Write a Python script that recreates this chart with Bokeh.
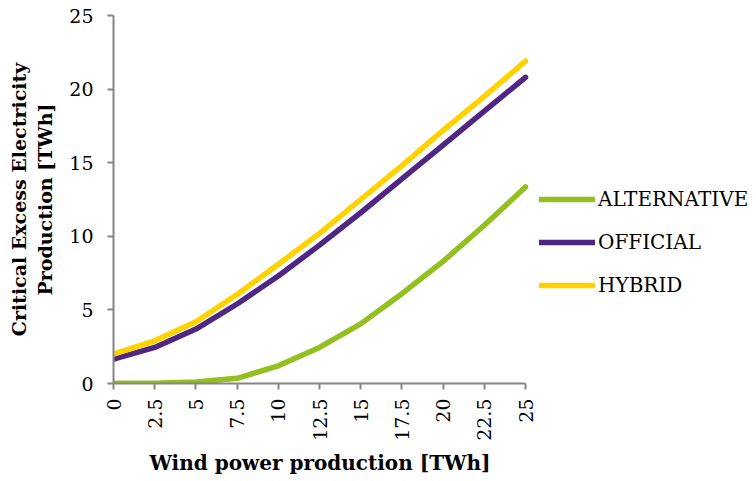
import math
from bokeh.plotting import figure
from bokeh.models import Legend, LegendItem, FixedTicker, Range1d, Title
from bokeh.embed import file_html
from bokeh.resources import INLINE

wind = [0, 2.5, 5, 7.5, 10, 12.5, 15, 17.5, 20, 22.5, 25]
alternative = [0.02, 0.02, 0.1, 0.35, 1.2, 2.45, 4.05, 6.1, 8.3, 10.75, 13.35]
official = [1.65, 2.45, 3.7, 5.4, 7.3, 9.4, 11.6, 13.9, 16.2, 18.5, 20.8]
hybrid = [2.0, 2.9, 4.2, 6.05, 8.1, 10.2, 12.5, 14.8, 17.2, 19.5, 21.9]
y_ticks = [0, 5, 10, 15, 20, 25]

FONT = "DejaVu Serif"
AXIS_COLOR = "#868686"

W, H = 750, 479
LEFT, TOP, BOTTOM = 113, 15, 94
FRAME_W = W - LEFT
X_END = 25 * FRAME_W / 412.0

p = figure(width=W, height=H, output_backend="svg", toolbar_location=None,
           x_range=Range1d(0, X_END), y_range=Range1d(0, 25),
           min_border_left=LEFT, min_border_right=0, min_border_top=TOP,
           min_border_bottom=BOTTOM)
p.outline_line_color = None
p.xgrid.visible = False
p.ygrid.visible = False

series = [("ALTERNATIVE", alternative, "#93c01f"),
          ("OFFICIAL", official, "#4f2683"),
          ("HYBRID", hybrid, "#ffd200")]
items = []
for name, vals, col in series:
    r = p.line(wind, vals, line_color=col, line_width=5.5, line_cap="round", line_join="round")
    items.append(LegendItem(label=name, renderers=[r]))

for ax in (p.xaxis[0], p.yaxis[0]):
    ax.axis_line_color = AXIS_COLOR
    ax.axis_line_width = 2
    ax.major_tick_line_color = AXIS_COLOR
    ax.major_tick_line_width = 2
    ax.major_tick_in = 0
    ax.major_tick_out = 6
    ax.minor_tick_line_color = None
    ax.major_label_text_font = FONT
    ax.major_label_text_font_size = "19px"
    ax.major_label_text_color = "black"
    ax.axis_label_text_font = FONT
    ax.axis_label_text_font_style = "bold"
    ax.axis_label_text_font_size = "19px"
    ax.axis_label_text_color = "black"

p.xaxis.ticker = FixedTicker(ticks=wind)
p.xaxis.bounds = (0, 25)
p.xaxis.major_label_orientation = math.pi / 2
p.xaxis.major_label_standoff = 9

x_title = Title(text="Wind power production [TWh]", align="left",
                offset=36, text_font=FONT,
                text_font_style="bold", text_font_size="20px",
                text_color="black", standoff=10)
p.add_layout(x_title, "below")

p.yaxis.ticker = FixedTicker(ticks=y_ticks)
p.yaxis.major_label_standoff = 14
p.yaxis.axis_label = "Critical Excess Electricity\nProduction [TWh]"
p.yaxis.axis_label_standoff = 10

legend = Legend(items=items, location=(426, 86), orientation="vertical",
                label_text_font=FONT, label_text_font_size="20px",
                label_text_color="black", glyph_width=56, glyph_height=20,
                label_height=20, label_standoff=3, spacing=19, padding=0,
                margin=0, border_line_color=None, background_fill_alpha=0)
p.add_layout(legend, "center")

open("out.html", "w").write(file_html(p, INLINE))
